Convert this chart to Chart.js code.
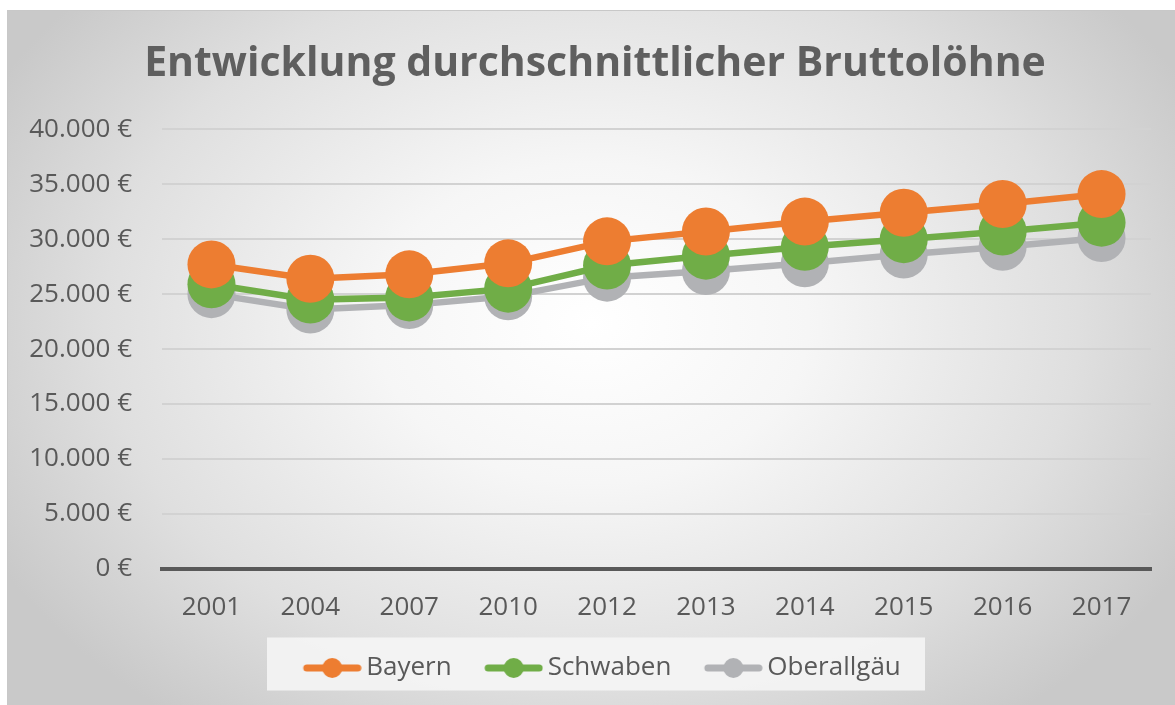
<!DOCTYPE html>
<html lang="de">
<head>
<meta charset="utf-8">
<script src="https://cdn.jsdelivr.net/npm/chart.js@4/dist/chart.umd.min.js"></script>
<style>
  html, body { margin: 0; padding: 0; background: #fff; }
  #wrap {
    position: absolute; left: 7px; top: 10px; width: 1168px; height: 695px;
    border-top: 1px solid #c8c8c8; border-left: 1px solid #c8c8c8;
    box-sizing: border-box;
    background: radial-gradient(ellipse 58% 72% at 50% 45%, #ffffff 0%, #f6f6f6 32%, #dfdfdf 72%, #c9c9c9 100%);
  }
  #chart { position: absolute; left: 0; top: 0; display: block; }
</style>
</head>
<body>
<div id="wrap"></div>
<canvas id="chart" width="1175" height="705"></canvas>
<script>
// Jahre und Werte (Euro)
const years = ['2001', '2004', '2007', '2010', '2012', '2013', '2014', '2015', '2016', '2017'];
const bayern = [27700, 26400, 26800, 27800, 29800, 30700, 31600, 32400, 33200, 34100];
const schwaben = [25900, 24500, 24700, 25500, 27600, 28500, 29300, 30000, 30700, 31500];
const oberallgaeu = [25000, 23600, 24000, 24800, 26500, 27100, 27800, 28600, 29300, 30100];
const yTicks = [0, 5000, 10000, 15000, 20000, 25000, 30000, 35000, 40000];

const textColor = '#595959';

// Legendensymbol: Linie mit Punkt (links etwas Luft, damit der Abstand stimmt)
function legendIcon(color) {
    const c = document.createElement('canvas');
    c.width = 81; c.height = 24;
    const g = c.getContext('2d');
    g.strokeStyle = color;
    g.lineWidth = 7;
    g.lineCap = 'round';
    g.beginPath(); g.moveTo(26, 12); g.lineTo(77, 12); g.stroke();
    g.fillStyle = color;
    g.beginPath(); g.arc(51.5, 12, 10, 0, Math.PI * 2); g.fill();
    return c;
}

// heller Kasten hinter der Legende
const legendBox = {
    id: 'legendBox',
    beforeDraw(chart) {
        const l = chart.legend;
        if (!l) return;
        const ctx = chart.ctx;
        const cx = l.left + l.width / 2;
        const cy = l.top + l.height / 2;
        ctx.save();
        ctx.fillStyle = 'rgba(243,243,243,0.95)';
        ctx.fillRect(cx - 328, cy - 26, 658, 53);
        ctx.restore();
    }
};

function ds(label, data, color) {
    return {
        label, data,
        borderColor: color, backgroundColor: color,
        borderWidth: 6.5, pointRadius: 24, pointHoverRadius: 24,
        pointBorderWidth: 0, tension: 0,
        pointStyle: 'circle'
    };
}

new Chart(document.getElementById('chart'), {
    type: 'line',
    data: {
        labels: years,
        datasets: [
            ds('Bayern', bayern, '#ed7d31'),
            ds('Schwaben', schwaben, '#70ad47'),
            ds('Oberallgäu', oberallgaeu, '#b1b2b5')
        ]
    },
    options: {
        responsive: false,
        animation: false,
        layout: { padding: { left: 38, right: 23, top: 0, bottom: 14 } },
        plugins: {
            title: {
                display: true,
                text: 'Entwicklung durchschnittlicher Bruttolöhne',
                color: '#5f5f5f',
                font: { family: 'Open Sans', size: 41, weight: 'bold' },
                padding: { top: 40, bottom: 40 }
            },
            legend: {
                position: 'bottom',
                labels: {
                    color: textColor,
                    font: { family: 'Open Sans', size: 26 },
                    usePointStyle: true,
                    pointStyleWidth: 64,
                    padding: 19,
                    generateLabels(chart) {
                        return chart.data.datasets.map((d, i) => ({
                            text: d.label,
                            fontColor: textColor,
                            pointStyle: legendIcon(d.borderColor),
                            strokeStyle: d.borderColor,
                            fillStyle: d.borderColor,
                            lineWidth: 0,
                            datasetIndex: i
                        }));
                    }
                }
            },
            tooltip: { enabled: false }
        },
        scales: {
            x: {
                offset: true,
                grid: { display: false },
                border: { color: '#595959', width: 4 },
                ticks: { color: textColor, font: { family: 'Open Sans', size: 26 }, padding: 15 },
                afterFit(scale) { scale.height = 67; }
            },
            y: {
                min: 0, max: 40000,
                afterBuildTicks(axis) { axis.ticks = yTicks.map(v => ({ value: v })); },
                afterFit(scale) {
                    scale.width = 124;
                    // Beschriftung darf links über die Achsenbox hinausragen
                    scale._computeLabelArea = () => undefined;
                },
                grid: { color: '#d2d2d2', lineWidth: 2, drawTicks: false },
                border: { display: false },
                ticks: {
                    color: textColor,
                    font: { family: 'Open Sans', size: 26 },
                    padding: 30,
                    callback: v => v.toLocaleString('de-DE') + ' €'
                }
            }
        }
    },
    plugins: [legendBox]
});
</script>
</body>
</html>
